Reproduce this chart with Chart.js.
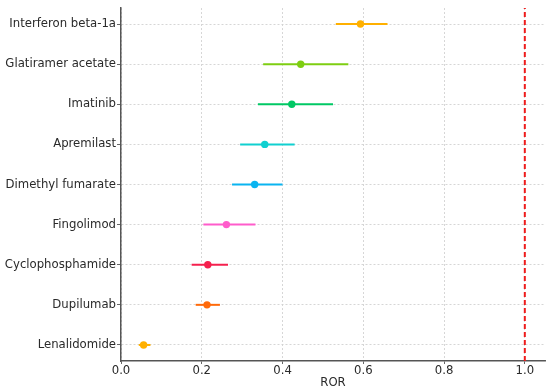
<!DOCTYPE html>
<html lang="en">
<head>
    <meta charset="UTF-8">
    <title>ROR forest plot</title>
    <script src="https://cdn.jsdelivr.net/npm/chart.js"></script>
    <style>
        body { margin: 0; background: #fff; }
    </style>
</head>
<body>
    <canvas id="rorChart" width="550" height="392"></canvas>
    <script>
        // bottom to top
        const drugs = ['Lenalidomide', 'Dupilumab', 'Cyclophosphamide', 'Fingolimod', 'Dimethyl fumarate',
                       'Apremilast', 'Imatinib', 'Glatiramer acetate', 'Interferon beta-1a'];
        const ror   = [0.056, 0.213, 0.215, 0.261, 0.331, 0.356, 0.423, 0.445, 0.593];
        const lower = [0.044, 0.185, 0.175, 0.204, 0.275, 0.295, 0.339, 0.352, 0.532];
        const upper = [0.073, 0.245, 0.265, 0.333, 0.400, 0.430, 0.525, 0.563, 0.660];
        const colors = ['#ffb000', '#ff6a0a', '#f5204e', '#ff5ccb', '#0ab4f0',
                        '#10d0d0', '#00c864', '#7ece12', '#ffb000'];
        const xTicks = [0.0, 0.2, 0.4, 0.6, 0.8, 1.0];
        const refValue = 1.0;

        const font = { family: 'DejaVu Sans', size: 11.7 };

        // one line per confidence interval
        const ciSets = drugs.map((d, i) => ({
            label: d + ' CI',
            data: [{ x: lower[i], y: i }, { x: upper[i], y: i }],
            showLine: true,
            borderColor: colors[i],
            borderWidth: 2,
            pointRadius: 0
        }));

        const pointSet = {
            label: 'ROR',
            data: drugs.map((d, i) => ({ x: ror[i], y: i })),
            pointRadius: 3.7,
            pointBackgroundColor: colors,
            pointBorderWidth: 0
        };

        const refLine = {
            label: 'ref',
            data: [{ x: refValue, y: -0.4 }, { x: refValue, y: drugs.length - 1 + 0.4 }],
            showLine: true,
            borderColor: '#ee1c1c',
            borderWidth: 2,
            borderDash: [5, 3],
            pointRadius: 0
        };

        new Chart(document.getElementById('rorChart').getContext('2d'), {
            type: 'scatter',
            data: { datasets: [...ciSets, pointSet, refLine] },
            options: {
                responsive: false,
                animation: false,
                layout: { padding: { left: 0, right: 5, top: 7, bottom: 0 } },
                plugins: { legend: { display: false }, tooltip: { enabled: false } },
                scales: {
                    x: {
                        type: 'linear',
                        min: 0,
                        max: 1.05,
                        afterBuildTicks: s => { s.ticks = xTicks.map(v => ({ value: v })); },
                        afterFit: s => { s.height = 31; },
                        ticks: { font, color: '#2a2a2a', padding: 0, callback: v => v.toFixed(1) },
                        grid: { color: '#d2d2d2', lineWidth: 0.9, tickColor: '#555', tickLength: 3, tickBorderDash: [] },
                        border: { color: '#555', width: 1.5, dash: [2, 2] },
                        title: { display: true, text: 'ROR', font, color: '#2a2a2a', padding: { top: 0, bottom: 2 } }
                    },
                    y: {
                        type: 'linear',
                        min: -0.4,
                        max: drugs.length - 1 + 0.4,
                        afterBuildTicks: s => { s.ticks = drugs.map((d, i) => ({ value: i })); },
                        afterFit: s => { s.width = 121; },
                        ticks: { font, color: '#2a2a2a', padding: 1, callback: v => drugs[v] },
                        grid: { color: '#d2d2d2', lineWidth: 0.9, tickColor: '#555', tickLength: 4, tickBorderDash: [] },
                        border: { color: '#555', width: 1.5, dash: [2, 2] }
                    }
                }
            }
        });
    </script>
</body>
</html>
